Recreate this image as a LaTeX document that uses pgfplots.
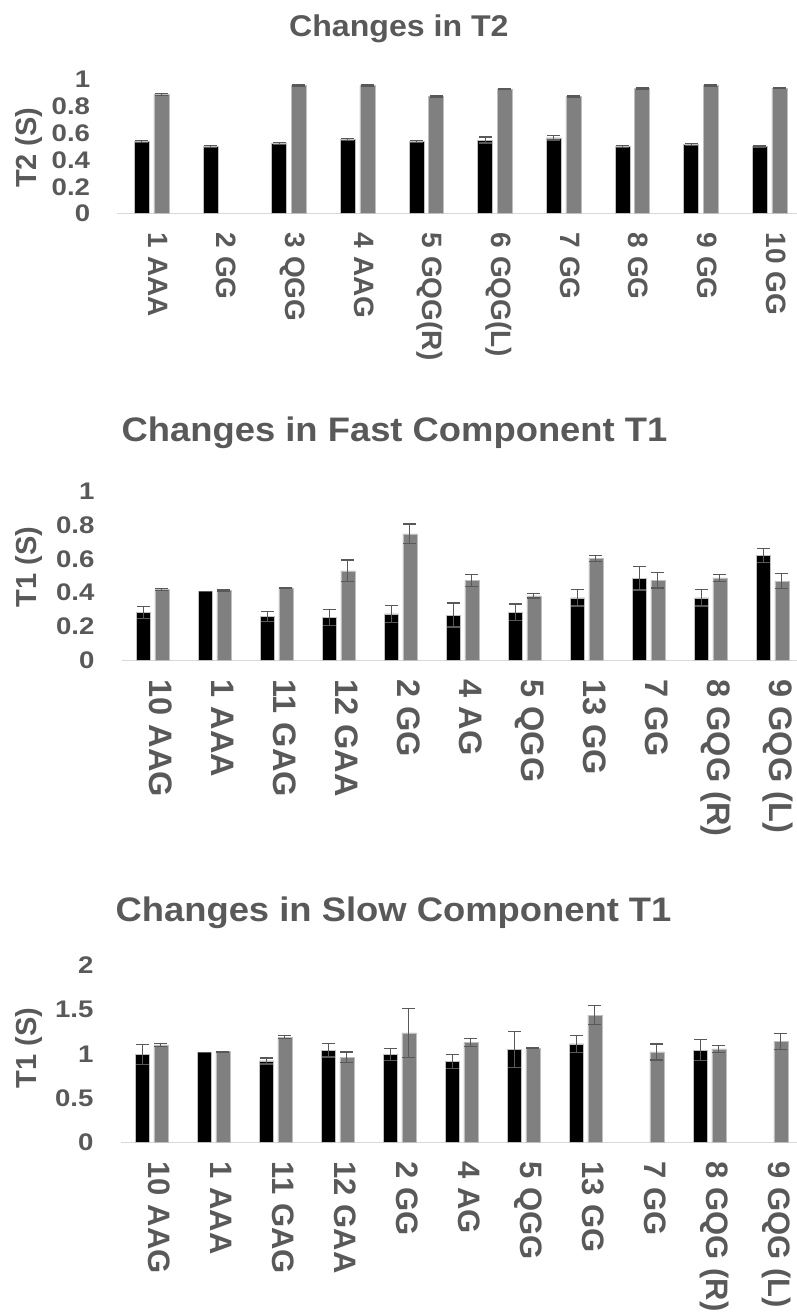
\documentclass[border=0pt]{standalone}
\usepackage{fontspec}
\setmainfont{Liberation Sans}
\newfontfamily\titlefont{Liberation Sans}[FakeStretch=1.07]
\newfontfamily\tickfont{Liberation Sans}[FakeStretch=1.15]
\usepackage{pgfplots}
\pgfplotsset{compat=1.18}

\definecolor{txtgray}{HTML}{595959}
\definecolor{bargray}{HTML}{808080}
\definecolor{errgray}{HTML}{595959}
\definecolor{axisgray}{HTML}{D9D9D9}
\definecolor{edgegray}{HTML}{BFBFBF}

\pgfplotsset{
  relaxchart/.style={
    scale only axis,
    ybar,
    ymin=0,
    axis lines=left,
    x axis line style={draw=axisgray, line width=1.3pt, -},
    y axis line style={draw=none},
    major tick length=0pt,
    /pgf/number format/assume math mode=true,
    yticklabel={\pgfmathprintnumber{\tick}\hspace*{27pt}},
    yticklabel style={font=\tickfont\bfseries\fontsize{24}{26}\selectfont,
      text=txtgray, anchor=east, inner sep=0pt},
    xticklabel style={text=txtgray, rotate=-90, anchor=west, inner sep=0pt,
      text height=0.72em, text depth=0pt},
    xticklabel shift=19pt,
    ylabel style={font=\bfseries\fontsize{29}{31}\selectfont, text=txtgray, anchor=center},
    title style={font=\titlefont\bfseries, text=txtgray, anchor=base, inner sep=0pt, yshift=-6pt},
    clip=false,
    error bars/y dir=both,
    error bars/y explicit,
    error bars/error bar style={errgray, line width=1.2pt},
    error bars/error mark options={rotate=90, errgray, mark size=6.5pt, line width=1.2pt},
  },
  blackbar/.style={fill=black, draw=edgegray, line width=0.6pt},
  graybar/.style={fill=bargray, draw=edgegray, line width=0.6pt},
}

\begin{document}
\begin{tikzpicture}[x=1pt, y=1pt]
\useasboundingbox (0,0) rectangle (797,1314);
\clip (0,0) rectangle (797,1314);

% ---------- T2 ----------
\begin{axis}[relaxchart,
  at={(117.3pt,1100.3pt)}, anchor=south west,
  width=686.7pt, height=134.7pt,
  xmin=-0.5, xmax=9.5, ymax=1,
  ytick={0,0.2,0.4,0.6,0.8,1},
  xtick={0,...,9},
  xticklabels={1 AAA,2 GG,3 QGG,4 AAG,5 GQG(R),6 GQG(L),7 GG,8 GG,9 GG,10 GG},
  xticklabel style={font=\bfseries\fontsize{28}{30}\selectfont},
  bar width=15pt,
  title={\fontsize{30}{32}\selectfont Changes in T2},
  title style={at={(axis description cs:0.410,1.314)}},
  ylabel={T2 (S)},
  ylabel style={at={(axis description cs:-0.1286,0.49)}},
]
\addplot[blackbar, bar shift=-9.8pt] coordinates {
  (0,0.535) +- (0,0.006)
  (1,0.500) +- (0,0.006)
  (2,0.520) +- (0,0.006)
  (3,0.552) +- (0,0.006)
  (4,0.535) +- (0,0.006)
  (5,0.547) +- (0,0.022)
  (6,0.563) +- (0,0.016)
  (7,0.500) +- (0,0.006)
  (8,0.515) +- (0,0.006)
  (9,0.497) +- (0,0.006)
};
\addplot[graybar, bar shift=9.8pt] coordinates {
  (0,0.885) +- (0,0.005)
  (2,0.950) +- (0,0.005)
  (3,0.950) +- (0,0.005)
  (4,0.872) +- (0,0.005)
  (5,0.925) +- (0,0.005)
  (6,0.872) +- (0,0.005)
  (7,0.930) +- (0,0.005)
  (8,0.950) +- (0,0.005)
  (9,0.932) +- (0,0.005)
};
\end{axis}

% ---------- Fast component T1 ----------
\begin{axis}[relaxchart,
  at={(121.7pt,653.7pt)}, anchor=south west,
  width=682pt, height=169pt,
  xmin=-0.5, xmax=10.5, ymax=1,
  ytick={0,0.2,0.4,0.6,0.8,1},
  xtick={0,...,10},
  xticklabels={10 AAG,1 AAA,11 GAG,12 GAA,2 GG,4 AG,5 QGG,13 GG,7 GG,8 GQG (R),9 GQG (L)},
  xticklabel style={font=\bfseries\fontsize{32.5}{34}\selectfont},
  bar width=14pt,
  title={\fontsize{34}{36}\selectfont Changes in Fast Component T1},
  title style={at={(axis description cs:0.400,1.292)}},
  ylabel={T1 (S)},
  ylabel style={at={(axis description cs:-0.136,0.552)}},
]
\addplot[blackbar, bar shift=-9.1pt] coordinates {
  (0,0.282) +- (0,0.034)
  (1,0.408) +- (0,0)
  (2,0.258) +- (0,0.030)
  (3,0.254) +- (0,0.046)
  (4,0.274) +- (0,0.049)
  (5,0.268) +- (0,0.071)
  (6,0.284) +- (0,0.049)
  (7,0.369) +- (0,0.048)
  (8,0.485) +- (0,0.069)
  (9,0.369) +- (0,0.048)
  (10,0.619) +- (0,0.041)
};
\addplot[graybar, bar shift=9.1pt] coordinates {
  (0,0.420) +- (0,0.005)
  (1,0.412) +- (0,0.004)
  (2,0.428) +- (0,0.004)
  (3,0.529) +- (0,0.064)
  (4,0.748) +- (0,0.059)
  (5,0.471) +- (0,0.036)
  (6,0.381) +- (0,0.012)
  (7,0.604) +- (0,0.018)
  (8,0.473) +- (0,0.045)
  (9,0.487) +- (0,0.021)
  (10,0.469) +- (0,0.045)
};
\end{axis}

% ---------- Slow component T1 ----------
\begin{axis}[relaxchart,
  at={(120.7pt,171.5pt)}, anchor=south west,
  width=682pt, height=177pt,
  xmin=-0.5, xmax=10.5, ymax=2,
  ytick={0,0.5,1,1.5,2},
  xtick={0,...,10},
  xticklabels={10 AAG,1 AAA,11 GAG,12 GAA,2 GG,4 AG,5 QGG,13 GG,7 GG,8 GQG (R),9 GQG (L)},
  xticklabel style={font=\bfseries\fontsize{31}{33}\selectfont},
  bar width=14pt,
  title={\fontsize{34}{36}\selectfont Changes in Slow Component T1},
  title style={at={(axis description cs:0.400,1.246)}},
  ylabel={T1 (S)},
  ylabel style={at={(axis description cs:-0.135,0.534)}},
]
\addplot[blackbar, bar shift=-9.1pt] coordinates {
  (0,0.996) +- (0,0.111)
  (1,1.019) +- (0,0)
  (2,0.921) +- (0,0.034)
  (3,1.042) +- (0,0.075)
  (4,0.996) +- (0,0.068)
  (5,0.917) +- (0,0.077)
  (6,1.053) +- (0,0.202)
  (7,1.113) +- (0,0.098)
  (9,1.045) +- (0,0.121)
};
\addplot[graybar, bar shift=9.1pt] coordinates {
  (0,1.102) +- (0,0.013)
  (1,1.026) +- (0,0.006)
  (2,1.189) +- (0,0.017)
  (3,0.962) +- (0,0.060)
  (4,1.238) +- (0,0.275)
  (5,1.132) +- (0,0.047)
  (6,1.064) +- (0,0.006)
  (7,1.438) +- (0,0.106)
  (8,1.023) +- (0,0.090)
  (9,1.057) +- (0,0.038)
  (10,1.143) +- (0,0.089)
};
\end{axis}
\end{tikzpicture}
\end{document}
